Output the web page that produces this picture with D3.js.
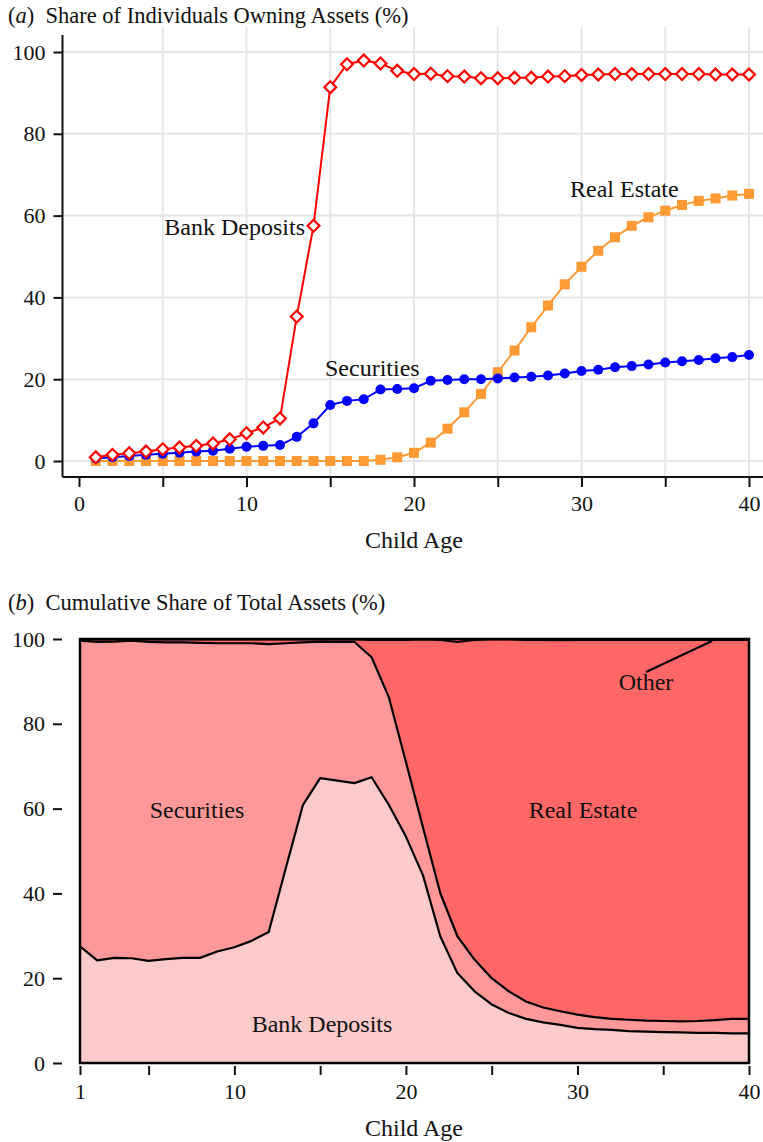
<!DOCTYPE html>
<html><head><meta charset="utf-8">
<script src="https://cdn.jsdelivr.net/npm/d3@7"></script>
<style>
body{margin:0;background:#fff;}
svg text{font-family:"Liberation Serif","Times New Roman",serif;fill:#111;}
</style></head>
<body><svg id="c" width="763" height="1142"></svg>
<script>
// ---------- Data ----------
const ages = [1,2,3,4,5,6,7,8,9,10,11,12,13,14,15,16,17,18,19,20,21,22,23,24,25,26,27,28,29,30,31,32,33,34,35,36,37,38,39,40];

// Panel (a): share of individuals owning each asset (%)
const ownBank = [0.9,1.5,1.9,2.3,2.9,3.3,3.7,4.3,5.3,6.8,8.2,10.4,35.3,57.5,91.4,97.0,97.9,97.2,95.4,94.6,94.7,94.1,94.0,93.6,93.6,93.7,93.7,94.0,94.1,94.4,94.5,94.6,94.6,94.6,94.6,94.6,94.6,94.5,94.5,94.5];
const ownSec = [0.6,0.9,1.2,1.5,1.8,2.0,2.3,2.5,3.0,3.5,3.7,3.9,5.9,9.2,13.7,14.7,15.1,17.5,17.6,17.8,19.6,19.8,20.0,20.0,20.2,20.4,20.6,20.9,21.4,22.0,22.3,22.9,23.2,23.6,24.1,24.4,24.7,25.1,25.4,25.9];
const ownRE = [0,0,0,0,0,0,0,0,0,0,0,0,0,0,0,0,0,0.3,0.9,2.0,4.5,7.9,11.9,16.4,21.7,27.0,32.7,38.0,43.2,47.5,51.4,54.7,57.5,59.6,61.2,62.6,63.6,64.2,64.9,65.3];

// Panel (b): share of total assets (%)
const shBank = [27.5,24.2,24.8,24.7,24.1,24.5,24.8,24.8,26.3,27.3,28.8,30.9,46.0,60.9,67.2,66.6,66.0,67.4,60.9,53.4,44.2,29.9,21.2,16.9,13.8,11.8,10.4,9.6,9.0,8.3,8.0,7.8,7.5,7.4,7.3,7.2,7.1,7.1,7.0,7.0];
const shSec = [72.1,75.1,74.6,74.9,75.2,74.7,74.4,74.3,72.7,71.7,70.2,67.9,53.0,38.3,32.2,32.7,33.3,28.3,25.4,17.6,11.3,10.2,8.7,7.5,6.2,5.1,4.1,3.5,3.2,3.1,2.8,2.6,2.7,2.6,2.6,2.6,2.8,3.0,3.4,3.4];
const shRE = [0.3,0.6,0.5,0.3,0.6,0.7,0.7,0.8,0.9,0.9,0.9,1.1,0.9,0.7,0.5,0.6,0.6,4.1,13.5,28.8,44.4,59.7,69.4,75.4,79.9,83.0,85.3,86.7,87.5,88.4,89.0,89.4,89.6,89.8,89.9,90.0,89.9,89.7,89.4,89.4];
const shOther = [0.1,0.1,0.1,0.1,0.1,0.1,0.1,0.1,0.1,0.1,0.1,0.1,0.1,0.1,0.1,0.1,0.1,0.2,0.2,0.2,0.1,0.2,0.7,0.2,0.1,0.1,0.2,0.2,0.3,0.2,0.2,0.2,0.2,0.2,0.2,0.2,0.2,0.2,0.2,0.2];

const yTicks = [0,20,40,60,80,100];
const xTicksA = [0,10,20,30,40];
const xTicksB = [1,10,20,30,40];

// ---------- Drawing ----------
const svg = d3.select("#c");
const FS = 22;   // tick labels
const TS = 22.5; // titles
const LS = 24;   // labels / axis titles

// ===== Panel (a) =====
const xa = d3.scaleLinear().domain([0,40]).range([79,749]);
const ya = d3.scaleLinear().domain([0,100]).range([461,52]);
const ga = svg.append("g");

ga.append("text").attr("x",8).attr("y",23).attr("font-size",TS)
  .html('(<tspan font-style="italic">a</tspan>)&#160; Share of Individuals Owning Assets (%)');

// grid
ga.append("g").selectAll("line").data(yTicks).join("line")
  .attr("x1",63).attr("x2",763).attr("y1",d=>ya(d)).attr("y2",d=>ya(d))
  .attr("stroke","#e6e6e6").attr("stroke-width",2);
ga.append("g").selectAll("line").data(d3.range(5,41,5)).join("line")
  .attr("y1",27).attr("y2",476).attr("x1",d=>xa(d)).attr("x2",d=>xa(d))
  .attr("stroke","#e6e6e6").attr("stroke-width",2);

// axes
const yAxA = ga.append("g").attr("transform","translate(62.5,0)")
  .call(d3.axisLeft(ya).tickValues(yTicks).tickSize(9).tickPadding(8));
yAxA.select(".domain").attr("d","M0,35V477").attr("stroke","#111").attr("stroke-width",2);
yAxA.selectAll(".tick line").attr("stroke","#111").attr("stroke-width",2);
yAxA.selectAll(".tick text").attr("font-size",FS).attr("fill","#111");

const xAxA = ga.append("g").attr("transform","translate(0,477)")
  .call(d3.axisBottom(xa).tickValues(d3.range(0,41,5)).tickSize(10).tickPadding(8)
    .tickFormat(d=>xTicksA.includes(d)?d:""));
xAxA.select(".domain").attr("d","M62.5,0H763").attr("stroke","#111").attr("stroke-width",2);
xAxA.selectAll(".tick line").attr("stroke","#111").attr("stroke-width",2);
xAxA.selectAll(".tick text").attr("font-size",FS).attr("fill","#111");

ga.append("text").attr("x",414).attr("y",548).attr("text-anchor","middle").attr("font-size",LS).text("Child Age");

const lineA = d3.line().x((d,i)=>xa(ages[i])).y(d=>ya(d));
// Real estate (orange squares)
ga.append("path").datum(ownRE).attr("d",lineA).attr("fill","none").attr("stroke","#ff9933").attr("stroke-width",2);
ga.append("g").selectAll("rect").data(ownRE).join("rect")
  .attr("x",(d,i)=>xa(ages[i])-5).attr("y",d=>ya(d)-5).attr("width",10).attr("height",10).attr("fill","#ff9933");
// Securities (blue circles)
ga.append("path").datum(ownSec).attr("d",lineA).attr("fill","none").attr("stroke","#0000ff").attr("stroke-width",2);
ga.append("g").selectAll("circle").data(ownSec).join("circle")
  .attr("cx",(d,i)=>xa(ages[i])).attr("cy",d=>ya(d)).attr("r",5).attr("fill","#0000ff");
// Bank deposits (red open diamonds)
ga.append("path").datum(ownBank).attr("d",lineA).attr("fill","none").attr("stroke","#ff0000").attr("stroke-width",2);
const dia = d3.symbol().type(d3.symbolSquare).size(70);
ga.append("g").selectAll("path").data(ownBank).join("path")
  .attr("d",dia()).attr("transform",(d,i)=>`translate(${xa(ages[i])},${ya(d)}) rotate(45)`)
  .attr("fill","#fff").attr("stroke","#ff0000").attr("stroke-width",2.2);

ga.append("text").attr("x",305).attr("y",235).attr("text-anchor","end").attr("font-size",LS).text("Bank Deposits");
ga.append("text").attr("x",325).attr("y",376).attr("font-size",LS).text("Securities");
ga.append("text").attr("x",570).attr("y",197).attr("font-size",LS).text("Real Estate");

// ===== Panel (b) =====
const xb = d3.scaleLinear().domain([1,40]).range([80,749]);
const yb = d3.scaleLinear().domain([0,100]).range([1063,639]);
const gb = svg.append("g");

gb.append("text").attr("x",8).attr("y",610).attr("font-size",TS)
  .html('(<tspan font-style="italic">b</tspan>)&#160; Cumulative Share of Total Assets (%)');

const table = ages.map((a,i)=>({age:a, bank:shBank[i], sec:shSec[i], re:shRE[i], other:shOther[i]}));
const keys = ["bank","sec","re","other"];
const fills = {bank:"#fdcaca", sec:"#ff9999", re:"#ff6666", other:"#ff4d4d"};
const stack = d3.stack().keys(keys)(table);
const area = d3.area().x(d=>xb(d.data.age)).y0(d=>yb(d[0])).y1(d=>yb(Math.min(100,d[1])));
gb.append("g").selectAll("path").data(stack).join("path")
  .attr("d",area).attr("fill",d=>fills[d.key]);
const lineB = d3.line().x(d=>xb(d.data.age)).y(d=>yb(d[1]));
gb.append("g").selectAll("path").data(stack.slice(0,3)).join("path")
  .attr("d",lineB).attr("fill","none").attr("stroke","#000").attr("stroke-width",2.2).attr("stroke-linejoin","round");

// frame
gb.append("rect").attr("x",xb(1)).attr("y",yb(100)).attr("width",xb(40)-xb(1)).attr("height",yb(0)-yb(100))
  .attr("fill","none").attr("stroke","#000").attr("stroke-width",2.5);

const yAxB = gb.append("g").attr("transform","translate(62,0)")
  .call(d3.axisLeft(yb).tickValues(yTicks).tickSize(9).tickPadding(8));
yAxB.select(".domain").remove();
yAxB.selectAll(".tick line").attr("stroke","#111").attr("stroke-width",2);
yAxB.selectAll(".tick text").attr("font-size",FS).attr("fill","#111");

const xAxB = gb.append("g").attr("transform","translate(0,1066)")
  .call(d3.axisBottom(xb).tickValues([1,5,10,15,20,25,30,35,40]).tickSize(9).tickPadding(8)
    .tickFormat(d=>xTicksB.includes(d)?d:""));
xAxB.select(".domain").remove();
xAxB.selectAll(".tick line").attr("stroke","#111").attr("stroke-width",2);
xAxB.selectAll(".tick text").attr("font-size",FS).attr("fill","#111");

gb.append("text").attr("x",414).attr("y",1136).attr("text-anchor","middle").attr("font-size",LS).text("Child Age");

gb.append("text").attr("x",197).attr("y",818).attr("text-anchor","middle").attr("font-size",LS).text("Securities");
gb.append("text").attr("x",322).attr("y",1032).attr("text-anchor","middle").attr("font-size",LS).text("Bank Deposits");
gb.append("text").attr("x",583).attr("y",818).attr("text-anchor","middle").attr("font-size",LS).text("Real Estate");
gb.append("text").attr("x",646).attr("y",690).attr("text-anchor","middle").attr("font-size",LS).text("Other");
gb.append("line").attr("x1",646).attr("y1",672).attr("x2",712).attr("y2",641)
  .attr("stroke","#000").attr("stroke-width",2);
</script></body></html>
